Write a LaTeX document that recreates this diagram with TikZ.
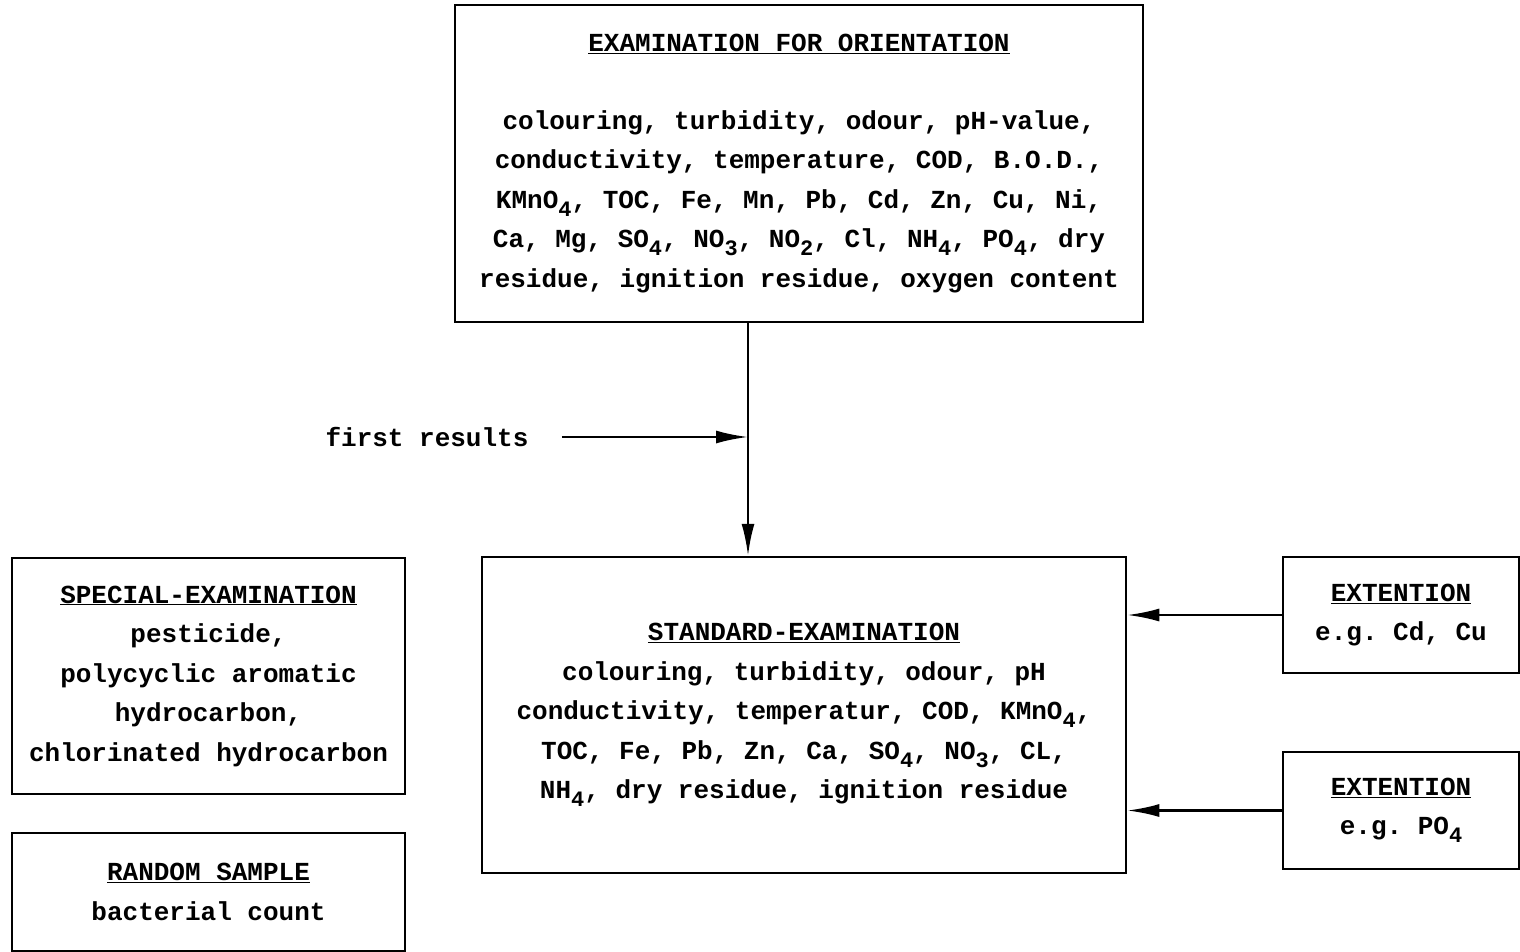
\documentclass[tikz,border=0pt]{standalone}
\usepackage{fontspec}
\setmainfont{Liberation Mono}
\usetikzlibrary{arrows.meta}
\newcommand{\sbs}[1]{\raisebox{-8pt}{\fontsize{22}{22}\selectfont #1}}
\newcommand{\hd}[1]{\underline{#1}}
\frenchspacing
\begin{document}
\begin{tikzpicture}[x=1pt,y=-1pt,
    box/.style={draw, line width=2.5pt, align=center, inner sep=0pt,
      font=\fontsize{26}{39.5}\selectfont\bfseries},
    arr/.style={line width=2.5pt, -{Latex[length=32pt,width=13pt]}}]
            \useasboundingbox (0,0) rectangle (1520,952);
            \node[box, minimum width=688pt, minimum height=317pt] (orient) at (799,163.5)
              {\hd{EXAMINATION FOR ORIENTATION}\\[38.5pt]
               colouring, turbidity, odour, pH-value,\\
               conductivity, temperature, COD, B.O.D.,\\
               KMnO\sbs{4}, TOC, Fe, Mn, Pb, Cd, Zn, Cu, Ni,\\
               Ca, Mg, SO\sbs{4}, NO\sbs{3}, NO\sbs{2}, Cl, NH\sbs{4}, PO\sbs{4}, dry\\
               residue, ignition residue, oxygen content};
            \node[box, minimum width=644pt, minimum height=316pt] (stdexam) at (804,715)
              {\hd{STANDARD-EXAMINATION}\\
               colouring, turbidity, odour, pH\\
               conductivity, temperatur, COD, KMnO\sbs{4},\\
               TOC, Fe, Pb, Zn, Ca, SO\sbs{4}, NO\sbs{3}, CL,\\
               NH\sbs{4}, dry residue, ignition residue};
            \node[box, minimum width=393pt, minimum height=236pt] (special) at (208.5,676)
              {\hd{SPECIAL-EXAMINATION}\\
               pesticide,\\
               polycyclic aromatic\\
               hydrocarbon,\\
               chlorinated hydrocarbon};
            \node[box, minimum width=393pt, minimum height=118pt] (random) at (208.5,892)
              {\hd{RANDOM SAMPLE}\\
               bacterial count};
            \node[box, minimum width=236pt, minimum height=116pt] (extA) at (1401,615)
              {\hd{EXTENTION}\\
               e.g. Cd, Cu};
            \node[box, minimum width=236pt, minimum height=117pt] (extB) at (1401,810.5)
              {\hd{EXTENTION}\\
               e.g. PO\sbs{4}};
            \node[font=\fontsize{26}{39.5}\selectfont\bfseries] (first) at (427,437) {first results};
            \coordinate (split) at (748,437);
            \draw[line width=2.5pt] (orient.south -| split) -- (split);
            \draw[arr] (split) -- (stdexam.north -| split);
            \draw[arr] ([xshift=30pt]first.east) -- (split);
            \draw[arr] (extA.west) -- (extA.west -| stdexam.east);
            \draw[arr] (extB.west) -- (extB.west -| stdexam.east);
        \end{tikzpicture}
\end{document}
